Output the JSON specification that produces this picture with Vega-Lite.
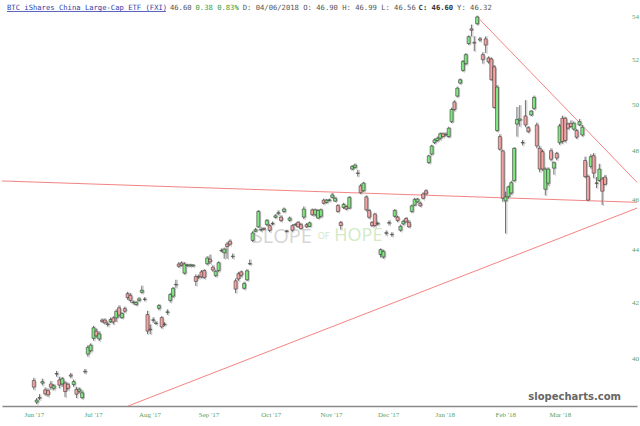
{
  "$schema": "https://vega.github.io/schema/vega-lite/v6.json",
  "description": "FXI daily candlesticks with trend lines, slopecharts style",
  "width": 640,
  "height": 426,
  "padding": 0,
  "autosize": {"type": "fit", "contains": "padding"},
  "background": "white",
  "config": {"view": {"stroke": null}, "axis": {"grid": false}},
  "datasets": {
    "fxi": [
      {"i":0,"o":39.22,"h":39.31,"l":38.90,"c":38.99},
      {"i":1,"o":38.48,"h":38.62,"l":38.41,"c":38.55},
      {"i":2,"o":38.62,"h":38.75,"l":38.55,"c":38.64},
      {"i":3,"o":39.13,"h":39.28,"l":39.05,"c":39.18},
      {"i":4,"o":38.90,"h":38.98,"l":38.70,"c":38.76},
      {"i":5,"o":38.87,"h":38.95,"l":38.66,"c":38.73},
      {"i":6,"o":39.10,"h":39.20,"l":38.90,"c":38.99},
      {"i":7,"o":38.95,"h":39.10,"l":38.88,"c":39.04},
      {"i":8,"o":39.44,"h":39.55,"l":39.35,"c":39.46},
      {"i":9,"o":39.24,"h":39.35,"l":38.95,"c":39.06},
      {"i":10,"o":39.10,"h":39.34,"l":39.00,"c":39.28},
      {"i":11,"o":39.13,"h":39.20,"l":38.65,"c":38.84},
      {"i":12,"o":39.09,"h":39.15,"l":38.88,"c":38.95},
      {"i":13,"o":39.41,"h":39.48,"l":39.30,"c":39.37},
      {"i":14,"o":39.08,"h":39.25,"l":39.00,"c":39.18},
      {"i":15,"o":38.92,"h":39.00,"l":38.62,"c":38.75},
      {"i":16,"o":38.85,"h":38.98,"l":38.78,"c":38.92},
      {"i":17,"o":38.63,"h":38.88,"l":38.58,"c":38.80},
      {"i":18,"o":39.52,"h":39.62,"l":39.45,"c":39.54},
      {"i":19,"o":40.14,"h":40.45,"l":40.05,"c":40.38},
      {"i":20,"o":40.26,"h":40.52,"l":40.20,"c":40.46},
      {"i":21,"o":40.70,"h":41.15,"l":40.62,"c":41.08},
      {"i":22,"o":40.96,"h":41.05,"l":40.72,"c":40.79},
      {"i":23,"o":40.68,"h":40.95,"l":40.60,"c":40.86},
      {"i":24,"o":41.36,"h":41.42,"l":41.25,"c":41.31},
      {"i":25,"o":41.36,"h":41.42,"l":41.20,"c":41.26},
      {"i":26,"o":41.20,"h":41.30,"l":41.12,"c":41.22},
      {"i":27,"o":41.30,"h":41.45,"l":41.25,"c":41.38},
      {"i":28,"o":41.44,"h":41.50,"l":41.20,"c":41.29},
      {"i":29,"o":41.44,"h":41.75,"l":41.30,"c":41.68},
      {"i":30,"o":41.81,"h":41.90,"l":41.45,"c":41.54},
      {"i":31,"o":41.45,"h":41.65,"l":41.40,"c":41.60},
      {"i":32,"o":41.78,"h":41.85,"l":41.62,"c":41.68},
      {"i":33,"o":42.33,"h":42.40,"l":42.10,"c":42.18},
      {"i":34,"o":42.27,"h":42.35,"l":42.00,"c":42.08},
      {"i":35,"o":42.02,"h":42.08,"l":41.93,"c":42.00},
      {"i":36,"o":41.93,"h":42.06,"l":41.88,"c":42.01},
      {"i":37,"o":42.08,"h":42.20,"l":42.03,"c":42.14},
      {"i":38,"o":42.38,"h":42.63,"l":42.33,"c":42.46},
      {"i":39,"o":42.12,"h":42.20,"l":42.05,"c":42.13},
      {"i":40,"o":41.56,"h":41.70,"l":40.85,"c":40.96},
      {"i":41,"o":41.03,"h":41.20,"l":40.85,"c":41.01},
      {"i":42,"o":41.35,"h":41.46,"l":41.26,"c":41.37},
      {"i":43,"o":41.25,"h":41.32,"l":41.18,"c":41.24},
      {"i":44,"o":41.79,"h":41.95,"l":41.72,"c":41.89},
      {"i":45,"o":41.45,"h":41.50,"l":41.05,"c":41.11},
      {"i":46,"o":41.20,"h":41.28,"l":41.14,"c":41.21},
      {"i":47,"o":41.64,"h":41.75,"l":41.55,"c":41.66},
      {"i":48,"o":42.08,"h":42.36,"l":42.00,"c":42.30},
      {"i":49,"o":42.24,"h":42.58,"l":42.18,"c":42.53},
      {"i":50,"o":42.66,"h":42.85,"l":42.55,"c":42.68},
      {"i":51,"o":43.45,"h":43.52,"l":43.30,"c":43.36},
      {"i":52,"o":43.49,"h":43.55,"l":43.35,"c":43.40},
      {"i":53,"o":43.10,"h":43.52,"l":43.05,"c":43.45},
      {"i":54,"o":43.39,"h":43.46,"l":43.34,"c":43.41},
      {"i":55,"o":43.38,"h":43.46,"l":43.33,"c":43.42},
      {"i":56,"o":43.38,"h":43.45,"l":43.33,"c":43.41},
      {"i":57,"o":42.97,"h":43.05,"l":42.62,"c":42.79},
      {"i":58,"o":42.97,"h":43.05,"l":42.88,"c":42.95},
      {"i":59,"o":43.15,"h":43.22,"l":42.90,"c":42.96},
      {"i":60,"o":43.20,"h":43.25,"l":42.88,"c":42.94},
      {"i":61,"o":43.46,"h":43.75,"l":43.40,"c":43.68},
      {"i":62,"o":43.63,"h":43.81,"l":43.45,"c":43.53},
      {"i":63,"o":43.33,"h":43.40,"l":43.15,"c":43.22},
      {"i":64,"o":43.01,"h":43.22,"l":42.95,"c":43.17},
      {"i":65,"o":43.20,"h":43.55,"l":43.15,"c":43.50},
      {"i":66,"o":43.95,"h":44.05,"l":43.90,"c":43.97},
      {"i":67,"o":43.88,"h":44.08,"l":43.65,"c":44.02},
      {"i":68,"o":44.22,"h":44.30,"l":43.65,"c":44.12},
      {"i":69,"o":44.33,"h":44.40,"l":44.15,"c":44.21},
      {"i":70,"o":43.75,"h":43.85,"l":43.65,"c":43.73},
      {"i":71,"o":42.81,"h":42.90,"l":42.35,"c":42.50},
      {"i":72,"o":43.08,"h":43.15,"l":42.80,"c":42.88},
      {"i":73,"o":43.15,"h":43.20,"l":42.95,"c":43.02},
      {"i":74,"o":42.53,"h":42.78,"l":42.48,"c":42.71},
      {"i":75,"o":42.85,"h":43.25,"l":42.80,"c":43.19},
      {"i":76,"o":43.45,"h":43.62,"l":43.40,"c":43.47},
      {"i":77,"o":44.36,"h":44.72,"l":44.30,"c":44.65},
      {"i":78,"o":44.72,"h":44.85,"l":44.68,"c":44.78},
      {"i":79,"o":44.89,"h":45.56,"l":44.85,"c":45.50},
      {"i":80,"o":44.77,"h":44.88,"l":44.70,"c":44.79},
      {"i":81,"o":44.82,"h":44.88,"l":44.75,"c":44.80},
      {"i":82,"o":44.98,"h":45.20,"l":44.92,"c":45.15},
      {"i":83,"o":44.94,"h":45.00,"l":44.68,"c":44.75},
      {"i":84,"o":45.01,"h":45.10,"l":44.95,"c":45.03},
      {"i":85,"o":45.27,"h":45.40,"l":45.22,"c":45.33},
      {"i":86,"o":45.43,"h":45.55,"l":45.35,"c":45.45},
      {"i":87,"o":45.28,"h":45.35,"l":45.08,"c":45.14},
      {"i":88,"o":45.50,"h":45.66,"l":45.45,"c":45.60},
      {"i":89,"o":44.73,"h":44.78,"l":44.66,"c":44.71},
      {"i":90,"o":45.15,"h":45.30,"l":45.10,"c":45.24},
      {"i":91,"o":44.94,"h":45.00,"l":44.70,"c":44.76},
      {"i":92,"o":44.99,"h":45.05,"l":44.92,"c":44.97},
      {"i":93,"o":45.07,"h":45.12,"l":44.85,"c":44.89},
      {"i":94,"o":44.98,"h":45.05,"l":44.78,"c":44.82},
      {"i":95,"o":45.28,"h":45.70,"l":45.20,"c":45.60},
      {"i":96,"o":44.98,"h":45.05,"l":44.85,"c":44.89},
      {"i":97,"o":44.91,"h":45.10,"l":44.88,"c":45.05},
      {"i":98,"o":45.57,"h":45.62,"l":45.32,"c":45.37},
      {"i":99,"o":45.37,"h":45.62,"l":45.30,"c":45.57},
      {"i":100,"o":45.24,"h":45.60,"l":45.20,"c":45.54},
      {"i":101,"o":45.31,"h":45.62,"l":45.25,"c":45.57},
      {"i":102,"o":45.96,"h":46.02,"l":45.78,"c":45.83},
      {"i":103,"o":45.87,"h":46.00,"l":45.82,"c":45.96},
      {"i":104,"o":45.95,"h":46.02,"l":45.90,"c":45.97},
      {"i":105,"o":46.07,"h":46.25,"l":46.02,"c":46.17},
      {"i":106,"o":45.92,"h":46.10,"l":45.88,"c":46.03},
      {"i":107,"o":45.74,"h":45.80,"l":45.45,"c":45.50},
      {"i":108,"o":45.07,"h":45.12,"l":44.78,"c":44.94},
      {"i":109,"o":45.66,"h":45.85,"l":45.60,"c":45.79},
      {"i":110,"o":45.70,"h":45.75,"l":45.55,"c":45.60},
      {"i":111,"o":45.64,"h":46.12,"l":45.60,"c":46.07},
      {"i":112,"o":47.23,"h":47.40,"l":47.18,"c":47.34},
      {"i":113,"o":47.30,"h":47.46,"l":47.25,"c":47.40},
      {"i":114,"o":47.07,"h":47.20,"l":46.92,"c":47.05},
      {"i":115,"o":46.54,"h":46.62,"l":46.20,"c":46.26},
      {"i":116,"o":46.34,"h":46.70,"l":46.30,"c":46.65},
      {"i":117,"o":46.09,"h":46.15,"l":45.50,"c":45.57},
      {"i":118,"o":45.54,"h":45.60,"l":45.20,"c":45.27},
      {"i":119,"o":45.07,"h":45.12,"l":44.88,"c":44.94},
      {"i":120,"o":45.40,"h":45.45,"l":44.88,"c":44.94},
      {"i":121,"o":45.01,"h":45.10,"l":44.95,"c":45.03},
      {"i":122,"o":43.81,"h":44.05,"l":43.70,"c":44.00},
      {"i":123,"o":43.72,"h":44.00,"l":43.65,"c":43.93},
      {"i":124,"o":44.64,"h":44.75,"l":44.55,"c":44.66},
      {"i":125,"o":45.04,"h":45.15,"l":44.95,"c":45.06},
      {"i":126,"o":44.60,"h":44.68,"l":44.50,"c":44.58},
      {"i":127,"o":45.31,"h":45.60,"l":45.25,"c":45.54},
      {"i":128,"o":45.28,"h":45.33,"l":45.08,"c":45.14},
      {"i":129,"o":44.76,"h":44.98,"l":44.70,"c":44.91},
      {"i":130,"o":45.01,"h":45.18,"l":44.95,"c":45.11},
      {"i":131,"o":45.22,"h":45.28,"l":45.05,"c":45.09},
      {"i":132,"o":45.07,"h":45.15,"l":44.85,"c":44.89},
      {"i":133,"o":45.50,"h":45.78,"l":45.45,"c":45.73},
      {"i":134,"o":45.76,"h":46.05,"l":45.72,"c":45.99},
      {"i":135,"o":45.89,"h":46.05,"l":45.85,"c":46.00},
      {"i":136,"o":45.83,"h":45.90,"l":45.68,"c":45.73},
      {"i":137,"o":46.21,"h":46.28,"l":45.98,"c":46.03},
      {"i":138,"o":46.34,"h":46.40,"l":46.15,"c":46.21},
      {"i":139,"o":47.50,"h":47.83,"l":47.45,"c":47.78},
      {"i":140,"o":47.86,"h":48.25,"l":47.80,"c":48.20},
      {"i":141,"o":48.34,"h":48.52,"l":48.28,"c":48.46},
      {"i":142,"o":48.43,"h":48.60,"l":48.38,"c":48.53},
      {"i":143,"o":48.53,"h":48.78,"l":48.45,"c":48.72},
      {"i":144,"o":48.72,"h":48.78,"l":48.55,"c":48.60},
      {"i":145,"o":48.68,"h":48.78,"l":48.60,"c":48.70},
      {"i":146,"o":48.60,"h":49.02,"l":48.55,"c":48.96},
      {"i":147,"o":49.24,"h":49.85,"l":49.18,"c":49.77},
      {"i":148,"o":50.10,"h":50.18,"l":49.70,"c":49.77},
      {"i":149,"o":50.36,"h":50.78,"l":50.30,"c":50.71},
      {"i":150,"o":50.94,"h":51.15,"l":50.88,"c":51.09},
      {"i":151,"o":51.51,"h":51.98,"l":51.45,"c":51.92},
      {"i":152,"o":51.82,"h":52.30,"l":51.75,"c":52.23},
      {"i":153,"o":52.74,"h":53.12,"l":52.68,"c":53.06},
      {"i":154,"o":53.43,"h":53.63,"l":53.07,"c":53.36},
      {"i":155,"o":52.80,"h":53.08,"l":52.39,"c":52.76},
      {"i":156,"o":53.67,"h":54.05,"l":53.60,"c":53.99},
      {"i":157,"o":52.96,"h":53.05,"l":52.82,"c":52.90},
      {"i":158,"o":52.23,"h":52.34,"l":51.82,"c":52.00},
      {"i":159,"o":52.96,"h":53.08,"l":52.31,"c":52.67},
      {"i":160,"o":52.08,"h":52.15,"l":51.82,"c":51.90},
      {"i":161,"o":52.03,"h":52.10,"l":51.05,"c":51.09},
      {"i":162,"o":51.67,"h":51.75,"l":49.80,"c":49.86},
      {"i":163,"o":48.86,"h":50.85,"l":48.80,"c":50.76},
      {"i":164,"o":48.60,"h":48.70,"l":48.00,"c":48.06},
      {"i":165,"o":47.99,"h":48.05,"l":45.89,"c":46.03},
      {"i":166,"o":45.93,"h":46.30,"l":44.63,"c":46.09},
      {"i":167,"o":46.10,"h":46.55,"l":46.02,"c":46.50},
      {"i":168,"o":46.25,"h":46.75,"l":46.18,"c":46.67},
      {"i":169,"o":46.76,"h":48.15,"l":46.70,"c":48.10},
      {"i":170,"o":49.14,"h":49.88,"l":48.60,"c":49.34},
      {"i":171,"o":49.30,"h":49.96,"l":49.03,"c":49.36},
      {"i":172,"o":48.33,"h":48.45,"l":48.22,"c":48.35},
      {"i":173,"o":49.49,"h":50.18,"l":49.00,"c":49.10},
      {"i":174,"o":48.98,"h":49.05,"l":48.75,"c":48.81},
      {"i":175,"o":49.53,"h":49.75,"l":49.48,"c":49.70},
      {"i":176,"o":49.82,"h":50.38,"l":49.75,"c":50.30},
      {"i":177,"o":49.10,"h":49.20,"l":48.10,"c":48.20},
      {"i":178,"o":48.10,"h":48.20,"l":47.10,"c":47.23},
      {"i":179,"o":47.96,"h":48.05,"l":47.15,"c":47.23},
      {"i":180,"o":46.40,"h":47.30,"l":46.15,"c":47.23},
      {"i":181,"o":46.65,"h":47.30,"l":46.55,"c":47.23},
      {"i":182,"o":48.00,"h":48.10,"l":47.55,"c":47.64},
      {"i":183,"o":47.27,"h":47.55,"l":47.00,"c":47.50},
      {"i":184,"o":47.89,"h":47.95,"l":47.60,"c":47.69},
      {"i":185,"o":48.34,"h":49.15,"l":48.25,"c":49.06},
      {"i":186,"o":49.39,"h":49.50,"l":48.30,"c":48.39},
      {"i":187,"o":49.39,"h":49.45,"l":48.35,"c":48.43},
      {"i":188,"o":49.14,"h":49.20,"l":48.90,"c":48.96},
      {"i":189,"o":49.17,"h":49.30,"l":48.98,"c":49.03},
      {"i":190,"o":48.92,"h":49.25,"l":48.85,"c":49.17},
      {"i":191,"o":48.86,"h":48.92,"l":48.50,"c":48.57},
      {"i":192,"o":49.10,"h":49.35,"l":49.05,"c":49.24},
      {"i":193,"o":48.67,"h":49.10,"l":48.60,"c":49.00},
      {"i":194,"o":47.59,"h":47.75,"l":46.85,"c":46.92},
      {"i":195,"o":46.92,"h":47.00,"l":45.92,"c":45.96},
      {"i":196,"o":47.34,"h":47.85,"l":47.25,"c":47.75},
      {"i":197,"o":47.79,"h":47.90,"l":46.85,"c":47.06},
      {"i":198,"o":46.64,"h":46.90,"l":46.45,"c":46.66},
      {"i":199,"o":46.76,"h":47.45,"l":46.70,"c":47.23},
      {"i":200,"o":46.82,"h":46.90,"l":45.76,"c":46.32},
      {"i":201,"o":46.90,"h":46.99,"l":46.56,"c":46.60}
    ],
    "trend": [
      {"line": "flat", "i": -11.17, "p": 46.74},
      {"line": "flat", "i": 212.3, "p": 45.87},
      {"line": "support", "i": 33.2, "p": 38.35},
      {"line": "support", "i": 212.3, "p": 45.64},
      {"line": "resistance", "i": 156, "p": 54.0},
      {"line": "resistance", "i": 212.3, "p": 46.68}
    ],
    "one": [{}]
  },
  "layer": [
    {
      "data": {"name": "one"},
      "mark": {"type": "text", "text": "SLOPE", "font": "Open Sans", "fontSize": 20, "color": "#d6d6d6", "align": "center", "baseline": "middle"},
      "encoding": {
        "x": {"datum": 87.3, "type": "quantitative", "scale": {"domain": [-9.43, 210.5], "nice": false, "zero": false}},
        "y": {"datum": 44.49, "type": "quantitative", "scale": {"type": "log", "domain": [38.35, 54.8], "nice": false}}
      }
    },
    {
      "data": {"name": "one"},
      "mark": {"type": "text", "text": "OF", "font": "Open Sans", "fontSize": 9, "color": "#cfe6c2", "align": "center", "baseline": "middle"},
      "encoding": {
        "x": {"datum": 102, "type": "quantitative"},
        "y": {"datum": 44.52, "type": "quantitative"}
      }
    },
    {
      "data": {"name": "one"},
      "mark": {"type": "text", "text": "HOPE", "font": "Open Sans", "fontSize": 18, "color": "#d3eac6", "align": "center", "baseline": "middle"},
      "encoding": {
        "x": {"datum": 114.2, "type": "quantitative"},
        "y": {"datum": 44.55, "type": "quantitative"}
      }
    },
    {
      "data": {"name": "trend"},
      "mark": {"type": "line", "color": "#f26d6d", "strokeWidth": 1, "opacity": 0.85, "clip": false},
      "encoding": {
        "x": {"field": "i", "type": "quantitative"},
        "y": {"field": "p", "type": "quantitative"},
        "detail": {"field": "line"}
      }
    },
    {
      "data": {"name": "fxi"},
      "mark": {"type": "rule", "color": "#c4c4c4", "strokeWidth": 1, "xOffset": 1.4, "yOffset": 1},
      "encoding": {
        "x": {"field": "i", "type": "quantitative"},
        "y": {"field": "l", "type": "quantitative"},
        "y2": {"field": "h"}
      }
    },
    {
      "data": {"name": "fxi"},
      "mark": {"type": "bar", "width": 3, "color": "#c4c4c4", "xOffset": 1.4, "yOffset": 1},
      "encoding": {
        "x": {"field": "i", "type": "quantitative"},
        "y": {"field": "o", "type": "quantitative"},
        "y2": {"field": "c"}
      }
    },
    {
      "data": {"name": "fxi"},
      "mark": {"type": "rule", "color": "#4a4a4a", "strokeWidth": 0.8},
      "encoding": {
        "x": {"field": "i", "type": "quantitative"},
        "y": {"field": "l", "type": "quantitative"},
        "y2": {"field": "h"}
      }
    },
    {
      "data": {"name": "fxi"},
      "mark": {"type": "bar", "width": 3, "stroke": "#3c3c3c", "strokeWidth": 0.6},
      "encoding": {
        "x": {
          "field": "i", "type": "quantitative",
          "scale": {"domain": [-9.43, 210.5], "nice": false, "zero": false},
          "axis": {
            "values": [0, 20.9, 40.7, 61.5, 83.4, 104.6, 124.7, 144.6, 165.9, 185.1],
            "labelExpr": "datum.value < 10 ? \"Jun '17\" : datum.value < 30 ? \"Jul '17\" : datum.value < 50 ? \"Aug '17\" : datum.value < 70 ? \"Sep '17\" : datum.value < 90 ? \"Oct '17\" : datum.value < 110 ? \"Nov '17\" : datum.value < 130 ? \"Dec '17\" : datum.value < 150 ? \"Jan '18\" : datum.value < 175 ? \"Feb '18\" : \"Mar '18\"",
            "title": null, "grid": false, "ticks": false, "tickSize": 0,
            "domain": true, "domainColor": "#8a8a8a", "domainWidth": 1.5,
            "labelFont": "Liberation Serif", "labelFontSize": 7, "labelColor": "#5aa05a",
            "labelPadding": 4, "labelOverlap": false, "labelFlush": false,
            "minExtent": 20, "maxExtent": 20
          }
        },
        "y": {
          "field": "o", "type": "quantitative",
          "scale": {"type": "log", "domain": [38.35, 54.8], "nice": false},
          "axis": {
            "orient": "right", "values": [40, 42, 44, 46, 48, 50, 52, 54],
            "title": null, "grid": false, "ticks": false, "tickSize": 0, "domain": false,
            "labelAlign": "center", "labelBaseline": "middle", "labelPadding": -2,
            "labelFont": "Liberation Serif", "labelFontSize": 7, "labelColor": "#5aa05a",
            "labelOverlap": false, "labelFlush": false,
            "minExtent": 0, "maxExtent": 0
          }
        },
        "y2": {"field": "c"},
        "fill": {"condition": {"test": "datum.c >= datum.o", "value": "#80e680"}, "value": "#f4a2a2"}
      }
    },
    {
      "data": {"name": "one"},
      "mark": {"type": "rule", "color": "#2f3aa8", "strokeWidth": 0.8},
      "encoding": {
        "x": {"datum": -9.43, "type": "quantitative"},
        "x2": {"datum": 46.5},
        "y": {"datum": 54.25, "type": "quantitative"}
      }
    },
    {
      "data": {"name": "one"},
      "mark": {"type": "text", "text": "BTC iShares China Large-Cap ETF (FXI)", "font": "DejaVu Sans Mono", "fontSize": 7.2, "color": "#2f3aa8", "align": "left", "baseline": "middle"},
      "encoding": {
        "x": {"datum": -9.43, "type": "quantitative"},
        "y": {"datum": 54.41, "type": "quantitative"}
      }
    },
    {
      "data": {"name": "one"},
      "mark": {"type": "text", "text": "46.60", "font": "DejaVu Sans Mono", "fontSize": 7.2, "color": "#555555", "align": "left", "baseline": "middle"},
      "encoding": {
        "x": {"datum": 47.9, "type": "quantitative"},
        "y": {"datum": 54.41, "type": "quantitative"}
      }
    },
    {
      "data": {"name": "one"},
      "mark": {"type": "text", "text": "0.38 0.83%", "font": "DejaVu Sans Mono", "fontSize": 7.2, "color": "#3c9a3c", "align": "left", "baseline": "middle"},
      "encoding": {
        "x": {"datum": 56.9, "type": "quantitative"},
        "y": {"datum": 54.41, "type": "quantitative"}
      }
    },
    {
      "data": {"name": "one"},
      "mark": {"type": "text", "text": "D: 04/06/2018 O: 46.90 H: 46.99 L: 46.56", "font": "DejaVu Sans Mono", "fontSize": 7.2, "color": "#555555", "align": "left", "baseline": "middle"},
      "encoding": {
        "x": {"datum": 73.5, "type": "quantitative"},
        "y": {"datum": 54.41, "type": "quantitative"}
      }
    },
    {
      "data": {"name": "one"},
      "mark": {"type": "text", "text": "C: 46.60", "font": "DejaVu Sans Mono", "fontSize": 7.2, "fontWeight": "bold", "color": "#333333", "align": "left", "baseline": "middle"},
      "encoding": {
        "x": {"datum": 135.4, "type": "quantitative"},
        "y": {"datum": 54.41, "type": "quantitative"}
      }
    },
    {
      "data": {"name": "one"},
      "mark": {"type": "text", "text": "Y: 46.32", "font": "DejaVu Sans Mono", "fontSize": 7.2, "color": "#555555", "align": "left", "baseline": "middle"},
      "encoding": {
        "x": {"datum": 148.95, "type": "quantitative"},
        "y": {"datum": 54.41, "type": "quantitative"}
      }
    },
    {
      "data": {"name": "one"},
      "mark": {"type": "text", "text": "slopecharts.com", "font": "DejaVu Sans", "fontSize": 10, "fontWeight": "bold", "color": "#666666", "align": "center", "baseline": "middle"},
      "encoding": {
        "x": {"datum": 190.3, "type": "quantitative"},
        "y": {"datum": 38.65, "type": "quantitative"}
      }
    }
  ]
}
